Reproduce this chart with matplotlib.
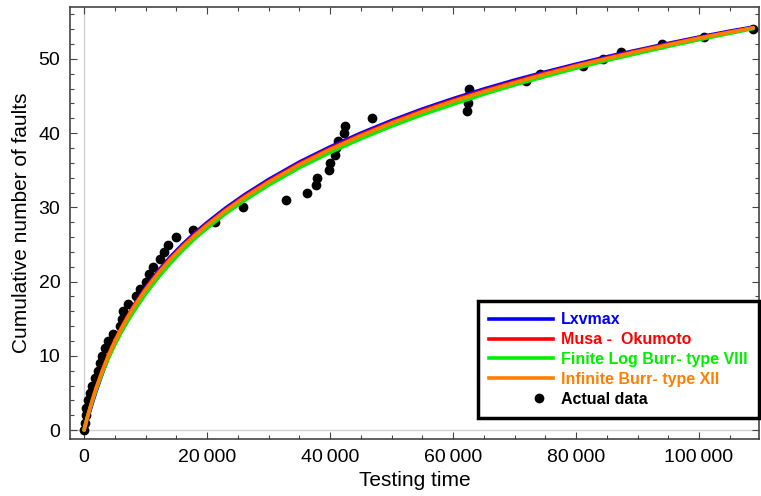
import matplotlib
matplotlib.use("Agg")
import matplotlib.pyplot as plt
import numpy as np
from matplotlib.lines import Line2D
from matplotlib.legend_handler import HandlerLine2D
from matplotlib.ticker import MultipleLocator, FuncFormatter

plt.rcParams['font.family'] = ['Liberation Sans', 'DejaVu Sans']

# actual data: testing time vs cumulative faults
times = [0, 150, 300, 330, 700, 980, 1350, 1840, 2230, 2600, 2980, 3410, 3950,
         4760, 5850, 6130, 6390, 7200, 8460, 9100, 10080, 10620, 11170, 12360,
         13010, 13710, 14960, 17670, 21300, 25900, 32850, 36210, 37720,
         37930, 39890, 40000, 40760, 40980, 41350, 42330, 42490, 46780, 62330,
         62440, 62500, 62650, 71870, 74150, 81190, 84440, 87270, 93940, 100860,
         108830]
faults = [0, 1, 2, 3, 4, 5, 6, 7, 8, 9, 10, 11, 12, 13, 14, 15, 16, 17, 18, 19,
          20, 21, 22, 23, 24, 25, 26, 27, 28, 30, 31, 32, 33, 34, 35, 36, 37,
          38, 39, 40, 41, 42, 43, 44, 45, 46, 47, 48, 49, 50, 51, 52, 53, 54]

# fitted model curves
t_fit = [0, 250, 500, 1000, 1500, 2000, 3000, 4000, 5000, 6000, 7000, 8000,
         10000, 12000, 14000, 16000, 18000, 20000, 23000, 26000, 30000, 35000,
         40000, 45000, 50000, 55000, 60000, 65000, 70000, 75000, 80000, 85000,
         90000, 95000, 100000, 105000, 108830]
lxvmax = [0, 0.55, 1.25, 2.7, 4.05, 5.35, 7.7, 9.9, 11.85, 13.6, 15.2, 16.65,
          19.2, 21.4, 23.3, 25.0, 26.55, 27.95, 29.9, 31.65, 33.75, 36.1, 38.15,
          40.0, 41.7, 43.25, 44.65, 45.95, 47.15, 48.25, 49.3, 50.3, 51.2, 52.1,
          52.95, 53.75, 54.3]
musa = [0, 0.8, 1.6, 3.05, 4.45, 5.8, 8.1, 10.2, 12.05, 13.7, 15.2, 16.6,
        19.05, 21.2, 23.1, 24.8, 26.35, 27.75, 29.7, 31.45, 33.55, 35.9, 37.95,
        39.8, 41.5, 43.05, 44.45, 45.75, 46.95, 48.1, 49.15, 50.15, 51.1, 52.0,
        52.85, 53.65, 54.2]
log_burr = [0, 0.8, 1.6, 3.0, 4.3, 5.55, 7.75, 9.75, 11.5, 13.1, 14.55, 15.9,
            18.35, 20.5, 22.45, 24.2, 25.8, 27.2, 29.15, 30.9, 33.0, 35.35, 37.4,
            39.25, 40.95, 42.5, 43.9, 45.25, 46.5, 47.65, 48.75, 49.8, 50.75,
            51.7, 52.6, 53.45, 54.1]
burr12 = [0, 0.8, 1.6, 3.05, 4.4, 5.7, 8.0, 10.1, 11.9, 13.55, 15.05, 16.45,
          18.9, 21.05, 22.95, 24.65, 26.2, 27.6, 29.55, 31.3, 33.4, 35.75, 37.8,
          39.65, 41.35, 42.9, 44.3, 45.6, 46.8, 47.95, 49.05, 50.05, 51.0, 51.9,
          52.8, 53.6, 54.2]

labels = ["Lxvmax", "Musa -  Okumoto", "Finite Log Burr- type VIII",
          "Infinite Burr- type XII"]
colors = ["#0000ff", "#ff0000", "#00ee00", "#ff8000"]


class RightMarker(HandlerLine2D):
    # put the legend dot toward the right of the handle slot
    def get_xdata(self, legend, xdescent, ydescent, width, height, fontsize):
        x = 0.78 * width - xdescent
        return np.array([x, x]), np.array([x])


fig = plt.figure(figsize=(7.61, 4.96), dpi=100)
ax = fig.add_axes([70 / 761, 57 / 496, 689 / 761, 432 / 496])

ax.axvline(0, color='#d0d0d0', lw=1, zorder=0)
ax.axhline(0, color='#d0d0d0', lw=1, zorder=0)

ax.plot(times, faults, 'o', color='black', ms=6, zorder=2)
for ys, c in zip([lxvmax, musa, log_burr, burr12], colors):
    ax.plot(t_fit, ys, color=c, lw=2.6, zorder=3, solid_capstyle='round')

ax.set_xlim(-2280, 109750)
ax.set_ylim(-1.2, 57.0)

ax.xaxis.set_major_locator(MultipleLocator(20000))
ax.xaxis.set_minor_locator(MultipleLocator(5000))
ax.yaxis.set_major_locator(MultipleLocator(10))
ax.yaxis.set_minor_locator(MultipleLocator(2))
ax.xaxis.set_major_formatter(FuncFormatter(
    lambda v, p: "0" if v == 0 else "{:,}".format(int(v)).replace(",", "\u2009")))

ax.tick_params(which='both', direction='in', top=True, right=True,
               labelsize=14, pad=7, width=0.8, color='#444444')
ax.tick_params(which='major', length=5)
ax.tick_params(which='minor', length=3)
for spine in ax.spines.values():
    spine.set_linewidth(1.2)
    spine.set_color('#444444')

ax.set_xlabel("Testing time", fontsize=15, labelpad=4)
ax.set_ylabel("Cumulative number of faults", fontsize=15, labelpad=5)

handles = [Line2D([], [], color=c, lw=2.6) for c in colors]
dot = Line2D([], [], ls='none', marker='o', color='black', ms=6)
handles.append(dot)
leg = ax.legend(handles, labels + ["Actual data"], loc='lower left',
                bbox_to_anchor=(0.592, 0.049), borderaxespad=0,
                prop={'weight': 'bold', 'size': 11.5}, handlelength=4.0,
                handletextpad=0.5, labelspacing=0.3, fancybox=False,
                framealpha=1, edgecolor='black', borderpad=0.7,
                labelcolor=colors + ['black'],
                handler_map={dot: RightMarker(numpoints=1)})
leg.get_frame().set_linewidth(2.5)

plt.savefig("out.png", dpi=100)
